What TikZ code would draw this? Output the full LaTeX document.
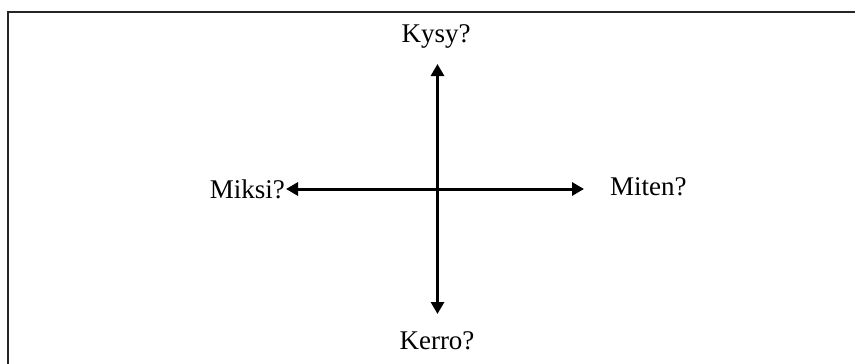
\documentclass[tikz,border=0pt]{standalone}
\usepackage{fontspec}
\setmainfont{Liberation Serif}
\usetikzlibrary{arrows.meta}
\begin{document}
\begin{tikzpicture}[x=1pt,y=-1pt,
  lbl/.style={font=\fontsize{27}{32}\selectfont, inner sep=0pt},
  arr/.style={line width=3pt, {Triangle[length=12pt,width=13pt]}-{Triangle[length=12pt,width=13pt]}},
  frame/.style={line width=2.5pt, draw=black!85}]
\useasboundingbox (0,0) rectangle (855,364);
\draw[frame] (8,364) -- (8,12) -- (855,12);
\coordinate (c) at (437.5,189);
\coordinate (tN) at (437.5,64);
\coordinate (tS) at (437.5,314);
\coordinate (tW) at (286,189);
\coordinate (tE) at (584,189);
\node[lbl] (kysy) at (436,36) {Kysy?};
\node[lbl,anchor=east] (miksi) at (285,189) {Miksi?};
\node[lbl,anchor=west] (miten) at (610,187) {Miten?};
\node[lbl] (kerro) at (437,341) {Kerro?};
\draw[arr] (tN) -- (c) -- (tS);
\draw[arr] (tW) -- (c) -- (tE);
\end{tikzpicture}
\end{document}
